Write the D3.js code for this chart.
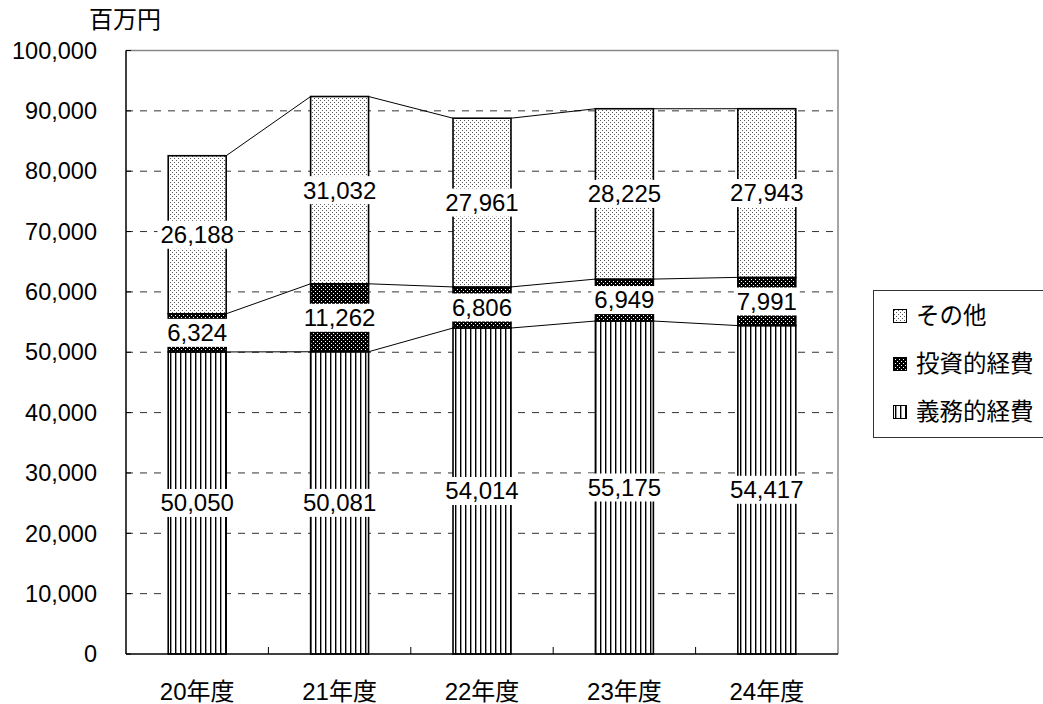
<!DOCTYPE html>
<html>
<head>
<meta charset="utf-8">
<script src="https://cdn.jsdelivr.net/npm/d3@7"></script>
<style>
  body { margin: 0; background: #fff; }
  svg { display: block; font-family: "Liberation Sans", Arial, "Noto Sans CJK JP", sans-serif; }
</style>
</head>
<body>
<svg id="chart"></svg>
<script>
// Chart data
const years = ["20年度", "21年度", "22年度", "23年度", "24年度"];
const seriesNames = ["義務的経費", "投資的経費", "その他"];
const gimu = [50050, 50081, 54014, 55175, 54417];
const toshi = [6324, 11262, 6806, 6949, 7991];
const sonota = [26188, 31032, 27961, 28225, 27943];
const yTicks = [0, 10000, 20000, 30000, 40000, 50000, 60000, 70000, 80000, 90000, 100000];
const unitLabel = "百万円";

const width = 1043;
const height = 704;
const margin = { top: 50.5, right: 205, bottom: 50, left: 126 };

const svg = d3.select("#chart").attr("width", width).attr("height", height);

// Patterns
const defs = svg.append("defs");

const pOther = defs.append("pattern").attr("id", "p-other")
    .attr("patternUnits", "userSpaceOnUse").attr("width", 4).attr("height", 4);
pOther.append("rect").attr("width", 4).attr("height", 4).attr("fill", "#fff");
pOther.append("rect").attr("x", 0).attr("y", 0).attr("width", 1).attr("height", 1).attr("fill", "#555");
pOther.append("rect").attr("x", 2).attr("y", 2).attr("width", 1).attr("height", 1).attr("fill", "#555");

const pInv = defs.append("pattern").attr("id", "p-inv")
    .attr("patternUnits", "userSpaceOnUse").attr("width", 4).attr("height", 4);
pInv.append("rect").attr("width", 4).attr("height", 4).attr("fill", "#000");
pInv.append("rect").attr("x", 1).attr("y", 1).attr("width", 1).attr("height", 1).attr("fill", "#fff");
pInv.append("rect").attr("x", 3).attr("y", 3).attr("width", 1).attr("height", 1).attr("fill", "#fff");

const pDuty = defs.append("pattern").attr("id", "p-duty")
    .attr("patternUnits", "userSpaceOnUse").attr("width", 5).attr("height", 5);
pDuty.append("rect").attr("width", 5).attr("height", 5).attr("fill", "#fff");
pDuty.append("rect").attr("x", 0).attr("width", 1.4).attr("height", 5).attr("fill", "#000");

const fills = { "義務的経費": "url(#p-duty)", "投資的経費": "url(#p-inv)", "その他": "url(#p-other)" };

// Table for stacking
const rows = years.map((y, i) => ({ year: y, "義務的経費": gimu[i], "投資的経費": toshi[i], "その他": sonota[i] }));
const stacked = d3.stack().keys(seriesNames)(rows);

const x = d3.scaleBand().domain(years)
    .range([margin.left, width - margin.right]).paddingInner(0.593).paddingOuter(0.2965);
const band = d3.scaleBand().domain(years).range([margin.left, width - margin.right]);
const y = d3.scaleLinear().domain([0, 100000]).range([height - margin.bottom, margin.top]);

const fmt = d3.format(",");

// Gridlines
svg.append("g").selectAll("line").data(yTicks.filter((d) => d > 0 && d < 100000)).join("line")
    .attr("x1", margin.left).attr("x2", width - margin.right)
    .attr("y1", (d) => y(d)).attr("y2", (d) => y(d))
    .attr("stroke", "#333").attr("stroke-width", 1).attr("stroke-dasharray", "7,7");

// Plot border (top/right gray)
svg.append("path")
    .attr("d", `M${margin.left},${y(100000)}H${width - margin.right}V${y(0)}`)
    .attr("fill", "none").attr("stroke", "#888").attr("stroke-width", 1.5);

// Series lines between bars
stacked.forEach((s) => {
    for (let i = 0; i < years.length - 1; i++) {
        svg.append("line")
            .attr("x1", x(years[i]) + x.bandwidth()).attr("y1", y(s[i][1]))
            .attr("x2", x(years[i + 1])).attr("y2", y(s[i + 1][1]))
            .attr("stroke", "#000").attr("stroke-width", 1);
    }
});

// Bars
const layer = svg.append("g").selectAll("g").data(stacked).join("g")
    .attr("fill", (d) => fills[d.key]);
layer.selectAll("rect").data((d) => d).join("rect")
    .attr("x", (d) => x(d.data.year))
    .attr("y", (d) => y(d[1]))
    .attr("width", x.bandwidth())
    .attr("height", (d) => y(d[0]) - y(d[1]))
    .attr("stroke", "#000").attr("stroke-width", 1.6);

// Axes
svg.append("line").attr("x1", margin.left).attr("x2", margin.left)
    .attr("y1", y(100000)).attr("y2", y(0)).attr("stroke", "#000").attr("stroke-width", 1.5);
svg.append("line").attr("x1", margin.left).attr("x2", width - margin.right)
    .attr("y1", y(0)).attr("y2", y(0)).attr("stroke", "#000").attr("stroke-width", 1.5);

// Y tick marks and labels
svg.append("g").selectAll("line").data(yTicks).join("line")
    .attr("x1", margin.left).attr("x2", margin.left + 5)
    .attr("y1", (d) => y(d)).attr("y2", (d) => y(d)).attr("stroke", "#000");
svg.append("g").selectAll("text").data(yTicks).join("text")
    .attr("x", 97).attr("y", (d) => y(d)).attr("dy", "0.35em")
    .attr("text-anchor", "end").attr("font-size", 23.5).text((d) => fmt(d));

// X category boundary ticks
svg.append("g").selectAll("line").data(years.slice(1)).join("line")
    .attr("x1", (d) => band(d)).attr("x2", (d) => band(d))
    .attr("y1", y(0)).attr("y2", y(0) - 7).attr("stroke", "#000");

// X labels
svg.append("g").selectAll("text").data(years).join("text")
    .attr("x", (d) => x(d) + x.bandwidth() / 2).attr("y", 692).attr("dy", "0.35em")
    .attr("text-anchor", "middle").attr("font-size", 24).text((d) => d);

// Unit label
svg.append("text").attr("x", 125).attr("y", 20).attr("dy", "0.35em")
    .attr("text-anchor", "middle").attr("font-size", 24).text(unitLabel);

// Data labels with white boxes
stacked.forEach((s) => {
    s.forEach((d) => {
        const cx = x(d.data.year) + x.bandwidth() / 2;
        const cy = y((d[0] + d[1]) / 2);
        const g = svg.append("g");
        const t = g.append("text").attr("x", cx).attr("y", cy).attr("dy", "0.35em")
            .attr("text-anchor", "middle").attr("font-size", 24).text(fmt(d[1] - d[0]));
        const bb = t.node().getBBox();
        g.insert("rect", "text")
            .attr("x", bb.x - 3).attr("y", cy - 14).attr("width", bb.width + 6).attr("height", 28)
            .attr("fill", "#fff");
    });
});

// Legend
const legend = svg.append("g");
legend.append("rect").attr("x", 873.5).attr("y", 290.5).attr("width", 200).attr("height", 147)
    .attr("fill", "#fff").attr("stroke", "#333").attr("stroke-width", 1);
const legendItems = ["その他", "投資的経費", "義務的経費"];
legendItems.forEach((k, i) => {
    const ly = 316 + i * 48;
    legend.append("rect").attr("x", 893.5).attr("y", ly - 6.5).attr("width", 13).attr("height", 13)
        .attr("fill", fills[k]).attr("stroke", "#000").attr("stroke-width", 1);
    legend.append("text").attr("x", 916).attr("y", ly).attr("dy", "0.35em")
        .attr("font-size", 23.5).text(k);
});
</script>
</body>
</html>
